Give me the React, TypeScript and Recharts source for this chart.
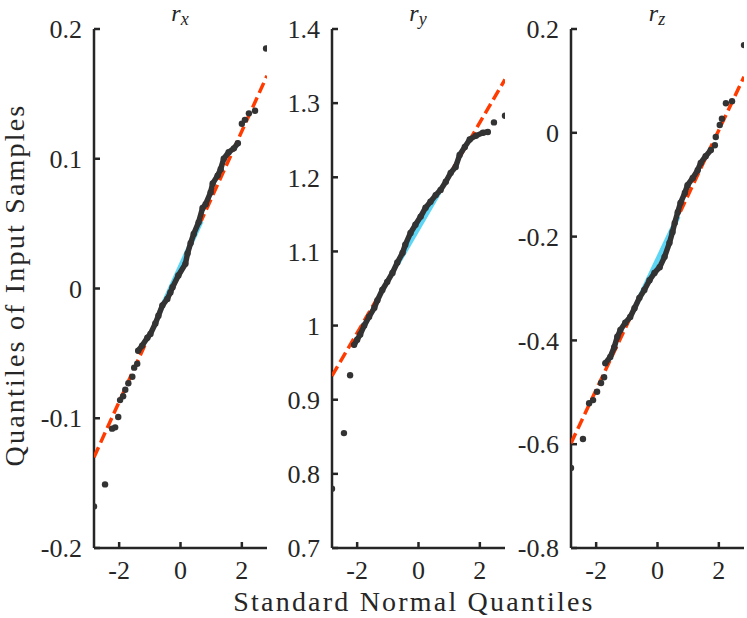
import { ScatterChart, Scatter, XAxis, YAxis } from 'recharts'

// theoretical quantiles (x) and sorted sample values (y)
const rxTailLowX = [-2.82, -2.46, -2.23, -2.13, -2.03, -1.97, -1.87, -1.8, -1.7, -1.57, -1.51, -1.41]
const rxTailLowY = [-0.168, -0.151, -0.108, -0.107, -0.099, -0.086, -0.083, -0.078, -0.073, -0.068, -0.061, -0.058]
const rxCoreX = [-1.38, -1.25, -1.08, -0.98, -0.82, -0.72, -0.59, -0.43, -0.33, -0.26, -0.07, 0.16, 0.23, 0.33, 0.43, 0.59, 0.72, 0.82, 0.98, 1.05, 1.21, 1.31, 1.41, 1.57, 1.74, 1.87]
const rxCoreY = [-0.048, -0.044, -0.038, -0.035, -0.027, -0.021, -0.013, -0.008, -0.003, 0.001, 0.01, 0.019, 0.027, 0.035, 0.042, 0.051, 0.062, 0.065, 0.074, 0.081, 0.087, 0.092, 0.1, 0.105, 0.108, 0.112]
const rxTailHighX = [2.0, 2.1, 2.23, 2.43, 2.79]
const rxTailHighY = [0.127, 0.13, 0.135, 0.137, 0.185]
const rxFitX = [-2.82, 2.82]
const rxFitY = [-0.13, 0.164]
const rxQuartX = [-0.674, 0.674]
const rxQuartY = [-0.018, 0.052]

const ryTailLowX = [-2.82, -2.43, -2.23]
const ryTailLowY = [0.78, 0.855, 0.933]
const ryCoreX = [-2.1, -2.0, -1.9, -1.77, -1.61, -1.44, -1.34, -1.18, -1.02, -0.85, -0.69, -0.52, -0.43, -0.26, -0.1, 0.07, 0.23, 0.39, 0.56, 0.72, 0.89, 1.05, 1.21, 1.34, 1.51, 1.67, 1.87, 2.1, 2.26]
const ryCoreY = [0.974, 0.981, 0.988, 1.0, 1.012, 1.024, 1.034, 1.048, 1.059, 1.071, 1.085, 1.098, 1.109, 1.125, 1.136, 1.147, 1.159, 1.167, 1.176, 1.183, 1.194, 1.206, 1.214, 1.23, 1.241, 1.251, 1.256, 1.26, 1.261]
const ryTailHighX = [2.46, 2.82]
const ryTailHighY = [1.274, 1.283]
const ryFitX = [-2.82, 2.82]
const ryFitY = [0.932, 1.332]
const ryQuartX = [-0.674, 0.674]
const ryQuartY = [1.084, 1.18]

const rzTailLowX = [-2.82, -2.43, -2.23, -2.1, -1.97, -1.84, -1.74]
const rzTailLowY = [-0.646, -0.59, -0.521, -0.515, -0.499, -0.482, -0.471]
const rzCoreX = [-1.7, -1.54, -1.41, -1.31, -1.21, -1.05, -0.89, -0.75, -0.59, -0.43, -0.26, -0.1, 0.07, 0.23, 0.39, 0.49, 0.56, 0.66, 0.75, 0.89, 0.98, 1.15, 1.31, 1.41, 1.57, 1.74]
const rzCoreY = [-0.444, -0.432, -0.413, -0.393, -0.38, -0.366, -0.355, -0.338, -0.318, -0.303, -0.284, -0.27, -0.259, -0.239, -0.212, -0.191, -0.174, -0.153, -0.135, -0.116, -0.101, -0.087, -0.072, -0.058, -0.045, -0.033]
const rzTailHighX = [1.87, 1.9, 2.03, 2.1, 2.23, 2.43, 2.82]
const rzTailHighY = [-0.024, -0.008, 0.015, 0.027, 0.057, 0.061, 0.169]
const rzFitX = [-2.82, 2.82]
const rzFitY = [-0.598, 0.108]
const rzQuartX = [-0.674, 0.674]
const rzQuartY = [-0.329, -0.161]

const xTicks = [-2, 0, 2]
const rxTicks = [-0.2, -0.1, 0, 0.1, 0.2]
const ryTicks = [0.7, 0.8, 0.9, 1, 1.1, 1.2, 1.3, 1.4]
const rzTicks = [-0.8, -0.6, -0.4, -0.2, 0, 0.2]

const zip = (xs: number[], ys: number[]) => xs.map((x, i) => ({ x, y: ys[i] }))

const AXIS = '#262626'
const DOT = '#333333'
const FONT = '"Liberation Serif", "Times New Roman", serif'
const YW = 70
const PLOT_W = 173
const PLOT_TOP = 29
const PLOT_BOTTOM = 548

const dot = (p: any) => <circle cx={p.cx} cy={p.cy} r={3.2} fill={DOT} />
const none = () => null

interface PanelProps {
  left: number
  yDomain: [number, number]
  yTicks: number[]
  lowX: number[]; lowY: number[]
  coreX: number[]; coreY: number[]
  highX: number[]; highY: number[]
  fitX: number[]; fitY: number[]
  quartX: number[]; quartY: number[]
}

const fmt = (v: number) => String(Math.round(v * 10) / 10)

const Panel = (p: PanelProps) => {
  const tick = { fontSize: 26, fill: AXIS, fontFamily: FONT }
  return (
    <div style={{ position: 'absolute', left: p.left - YW, top: 0 }}>
      <ScatterChart
        width={YW + PLOT_W + 2}
        height={PLOT_BOTTOM + 45}
        margin={{ top: PLOT_TOP, right: 2, bottom: 0, left: 0 }}
      >
        <XAxis
          type="number"
          dataKey="x"
          domain={[-2.82, 2.82]}
          allowDataOverflow
          ticks={xTicks}
          tickFormatter={fmt}
          height={45}
          tick={tick}
          stroke={AXIS}
          strokeWidth={2.5}
          tickSize={-6}
          tickMargin={19}
        />
        <YAxis
          type="number"
          dataKey="y"
          domain={p.yDomain}
          allowDataOverflow
          ticks={p.yTicks}
          tickFormatter={fmt}
          width={YW}
          tick={tick}
          stroke={AXIS}
          strokeWidth={2.5}
          tickSize={-6}
          tickMargin={18}
        />
        <Scatter
          data={zip(p.fitX, p.fitY)}
          line={{ stroke: '#ff3b00', strokeWidth: 3.5, strokeDasharray: '11 5' }}
          shape={none}
          isAnimationActive={false}
        />
        <Scatter
          data={zip(p.quartX, p.quartY)}
          line={{ stroke: '#5dd6f6', strokeWidth: 5 }}
          shape={none}
          isAnimationActive={false}
        />
        <Scatter
          data={zip(p.coreX, p.coreY)}
          line={{ stroke: DOT, strokeWidth: 5.5, strokeLinecap: 'round', strokeLinejoin: 'round' }}
          shape={dot}
          isAnimationActive={false}
        />
        <Scatter data={zip(p.lowX, p.lowY)} shape={dot} isAnimationActive={false} />
        <Scatter data={zip(p.highX, p.highY)} shape={dot} isAnimationActive={false} />
      </ScatterChart>
    </div>
  )
}

const Title = ({ cx, sub }: { cx: number; sub: string }) => (
  <text x={cx} y={21} textAnchor="middle" fontFamily={FONT} fontStyle="italic" fill={AXIS} fontSize={24}>
    r<tspan fontSize={18} dy={4}>{sub}</tspan>
  </text>
)

const label = { fontFamily: FONT, fontSize: 28, fill: AXIS, letterSpacing: 2.2 }

export default function App() {
  return (
    <div style={{ position: 'absolute', left: 0, top: 0, width: 747, height: 618, overflow: 'hidden', background: '#fff' }}>
      <Panel left={94} yDomain={[-0.2, 0.2]} yTicks={rxTicks}
        lowX={rxTailLowX} lowY={rxTailLowY} coreX={rxCoreX} coreY={rxCoreY}
        highX={rxTailHighX} highY={rxTailHighY} fitX={rxFitX} fitY={rxFitY}
        quartX={rxQuartX} quartY={rxQuartY} />
      <Panel left={332} yDomain={[0.7, 1.4]} yTicks={ryTicks}
        lowX={ryTailLowX} lowY={ryTailLowY} coreX={ryCoreX} coreY={ryCoreY}
        highX={ryTailHighX} highY={ryTailHighY} fitX={ryFitX} fitY={ryFitY}
        quartX={ryQuartX} quartY={ryQuartY} />
      <Panel left={571} yDomain={[-0.8, 0.2]} yTicks={rzTicks}
        lowX={rzTailLowX} lowY={rzTailLowY} coreX={rzCoreX} coreY={rzCoreY}
        highX={rzTailHighX} highY={rzTailHighY} fitX={rzFitX} fitY={rzFitY}
        quartX={rzQuartX} quartY={rzQuartY} />
      <svg width={747} height={618} style={{ position: 'absolute', left: 0, top: 0, pointerEvents: 'none' }}>
        <Title cx={180} sub="x" />
        <Title cx={418} sub="y" />
        <Title cx={657} sub="z" />
        <text x={414} y={611} textAnchor="middle" {...label}>
          Standard Normal Quantiles
        </text>
        <text transform="rotate(-90)" x={-285} y={24} textAnchor="middle" {...label}>
          Quantiles of Input Samples
        </text>
      </svg>
    </div>
  )
}
